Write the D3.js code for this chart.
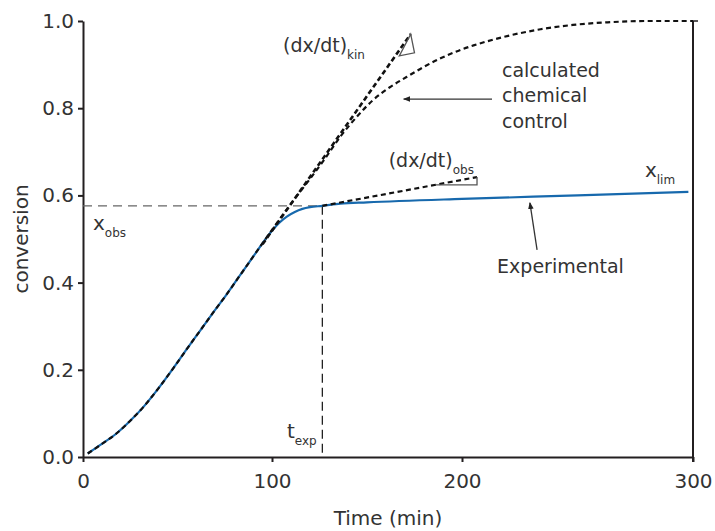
<!DOCTYPE html>
<html>
<head>
<meta charset="utf-8">
<script src="https://cdn.jsdelivr.net/npm/d3@7"></script>
<style>
  html, body { margin: 0; padding: 0; background: #fff; }
  svg { display: block; font-family: "DejaVu Sans", sans-serif; }
</style>
</head>
<body>
<svg id="chart" width="715" height="531"></svg>
<script>
// ---------- data ----------
const xTicks = [0, 100, 200, 300];
const yTicks = [0, 0.2, 0.4, 0.6, 0.8, 1.0];
const xTickLabels = ["0", "100", "200", "300"];
const yTickLabels = ["0.0", "0.2", "0.4", "0.6", "0.8", "1.0"];

// Experimental conversion (blue)
const expTime = [2.5, 10, 18, 25, 32, 40, 48, 55, 62, 70, 76, 82, 88, 94, 98, 101, 104, 108, 112, 116, 120, 126.5, 136, 150, 200, 250, 298];
const expConv = [0.008, 0.03, 0.055, 0.083, 0.115, 0.158, 0.205, 0.248, 0.29, 0.338, 0.373, 0.41, 0.447, 0.484, 0.508, 0.524, 0.538, 0.552, 0.562, 0.569, 0.573, 0.576, 0.581, 0.584, 0.592, 0.600, 0.608];

// Calculated chemical control (black dashed)
const calcTime = [2.5, 10, 18, 25, 32, 40, 48, 55, 62, 70, 76, 82, 88, 94, 100, 110, 120, 128, 136, 145, 153, 162, 171, 180, 189, 200, 205, 220, 234, 248, 263, 280, 300];
const calcConv = [0.008, 0.03, 0.055, 0.083, 0.115, 0.158, 0.205, 0.248, 0.29, 0.338, 0.373, 0.41, 0.447, 0.484, 0.521, 0.581, 0.638, 0.685, 0.735, 0.782, 0.818, 0.848, 0.872, 0.895, 0.915, 0.935, 0.944, 0.966, 0.981, 0.991, 0.997, 1.0, 1.0];

// Tangent lines
const kinTime = [95, 173];
const kinConv = [0.488, 0.97];
const obsTime = [126.5, 206.5];
const obsConv = [0.576, 0.642];

// Slope triangles
const kinTriTime = [173, 175, 167];
const kinTriConv = [0.97, 0.927, 0.92];
const obsTriTime = [186.2, 206.5, 206.5];
const obsTriConv = [0.624, 0.624, 0.642];

// Reference values
const tExp = 126.5;
const xObs = 0.576;

// ---------- layout ----------
const svg = d3.select("#chart");
const x = d3.scaleLinear().domain([0, 100, 200, 300]).range([83, 272, 462, 693]);
const y = d3.scaleLinear().domain([0, 1]).range([457, 21]);
const ink = "#231f20";
const textCol = "#333";
const blue = "#1769ad";

// axes
const xAxis = d3.axisBottom(x).tickValues(xTicks).tickFormat((d, i) => xTickLabels[i])
  .tickSize(5).tickSizeOuter(0).tickPadding(12);
const yAxis = d3.axisLeft(y).tickValues(yTicks).tickFormat((d, i) => yTickLabels[i])
  .tickSize(5).tickSizeOuter(0).tickPadding(4);

const gx = svg.append("g").attr("transform", `translate(0,${y(0)})`).call(xAxis);
const gy = svg.append("g").attr("transform", `translate(${x(0)},0)`).call(yAxis);
[gx, gy].forEach(g => {
  g.select(".domain").attr("stroke", ink).attr("stroke-width", 2);
  g.selectAll(".tick line").attr("stroke", ink).attr("stroke-width", 2);
  g.selectAll(".tick text").attr("fill", textCol).attr("font-size", 20)
    .attr("font-family", "DejaVu Sans, sans-serif");
});
// right frame line
svg.append("line")
  .attr("x1", x(300)).attr("x2", x(300))
  .attr("y1", y(1)).attr("y2", y(0) + 5)
  .attr("stroke", ink).attr("stroke-width", 2);
svg.append("line")
  .attr("x1", x(300)).attr("x2", x(300) + 5)
  .attr("y1", y(1)).attr("y2", y(1))
  .attr("stroke", ink).attr("stroke-width", 1.5);

// axis titles
svg.append("text")
  .attr("x", (x(0) + x(300)) / 2).attr("y", 525)
  .attr("text-anchor", "middle").attr("font-size", 20).attr("fill", textCol)
  .text("Time (min)");
svg.append("text")
  .attr("transform", `translate(28,${(y(0) + y(1)) / 2}) rotate(-90)`)
  .attr("text-anchor", "middle").attr("font-size", 20).attr("fill", textCol)
  .text("conversion");

// reference dashed lines
svg.append("line")
  .attr("x1", x(0)).attr("x2", x(tExp))
  .attr("y1", y(xObs)).attr("y2", y(xObs))
  .attr("stroke", "#666").attr("stroke-width", 1.3).attr("stroke-dasharray", "9,6");
svg.append("line")
  .attr("x1", x(tExp)).attr("x2", x(tExp))
  .attr("y1", y(xObs)).attr("y2", y(0))
  .attr("stroke", "#222").attr("stroke-width", 1.3).attr("stroke-dasharray", "9,5");

const line = d3.line().x(d => x(d[0])).y(d => y(d[1]));
const smooth = d3.line().x(d => x(d[0])).y(d => y(d[1])).curve(d3.curveMonotoneX);

// experimental
svg.append("path")
  .datum(expTime.map((t, i) => [t, expConv[i]]))
  .attr("d", smooth).attr("fill", "none").attr("stroke", blue).attr("stroke-width", 2.2);

// calculated
svg.append("path")
  .datum(calcTime.map((t, i) => [t, calcConv[i]]))
  .attr("d", smooth).attr("fill", "none").attr("stroke", "#111").attr("stroke-width", 2.2)
  .attr("stroke-dasharray", "5,3.5");

// kin tangent
svg.append("path")
  .datum(kinTime.map((t, i) => [t, kinConv[i]]))
  .attr("d", line).attr("fill", "none").attr("stroke", "#111").attr("stroke-width", 2.6)
  .attr("stroke-dasharray", "5,3");
// obs tangent
svg.append("path")
  .datum(obsTime.map((t, i) => [t, obsConv[i]]))
  .attr("d", line).attr("fill", "none").attr("stroke", "#111").attr("stroke-width", 2.2)
  .attr("stroke-dasharray", "5,3.5");

// slope triangles
svg.append("path")
  .datum(kinTriTime.map((t, i) => [t, kinTriConv[i]]))
  .attr("d", d => line(d) + "Z").attr("fill", "none").attr("stroke", "#555").attr("stroke-width", 1.3);
svg.append("path")
  .datum(obsTriTime.map((t, i) => [t, obsTriConv[i]]))
  .attr("d", d => line(d)).attr("fill", "none").attr("stroke", "#555").attr("stroke-width", 1.3);

// arrow marker
svg.append("defs").append("marker")
  .attr("id", "arr").attr("viewBox", "0 0 10 10").attr("refX", 9).attr("refY", 5)
  .attr("markerWidth", 7).attr("markerHeight", 7).attr("orient", "auto-start-reverse")
  .attr("markerUnits", "userSpaceOnUse")
  .append("path").attr("d", "M0,1 L10,5 L0,9 Z").attr("fill", "#222");

// arrows
svg.append("line")
  .attr("x1", x(213)).attr("y1", y(0.821)).attr("x2", x(169.3)).attr("y2", y(0.821))
  .attr("stroke", "#333").attr("stroke-width", 1.3).attr("marker-end", "url(#arr)");
svg.append("line")
  .attr("x1", x(232.5)).attr("y1", y(0.475)).attr("x2", x(229.4)).attr("y2", y(0.583))
  .attr("stroke", "#333").attr("stroke-width", 1.3).attr("marker-end", "url(#arr)");

// text labels
function label(t, v, main, sub, size) {
  const tx = svg.append("text").attr("x", x(t)).attr("y", y(v))
    .attr("font-size", size || 20).attr("fill", textCol);
  tx.append("tspan").text(main);
  if (sub) tx.append("tspan").attr("font-size", 12).attr("dy", 7).text(sub);
  return tx;
}
label(105.8, 0.929, "(dx/dt)", "kin", 19);
label(161.4, 0.665, "(dx/dt)", "obs", 19);
label(5.3, 0.521, "x", "obs", 20);
label(107.9, 0.044, "t", "exp", 20);
label(279.2, 0.642, "x", "lim", 20);
label(215.2, 0.422, "Experimental", null, 19);
["calculated", "chemical", "control"].forEach((s, i) => {
  svg.append("text").attr("x", x(217.3)).attr("y", y(0.872) + i * 25.5)
    .attr("font-size", 19).attr("fill", textCol).text(s);
});
</script>
</body>
</html>
